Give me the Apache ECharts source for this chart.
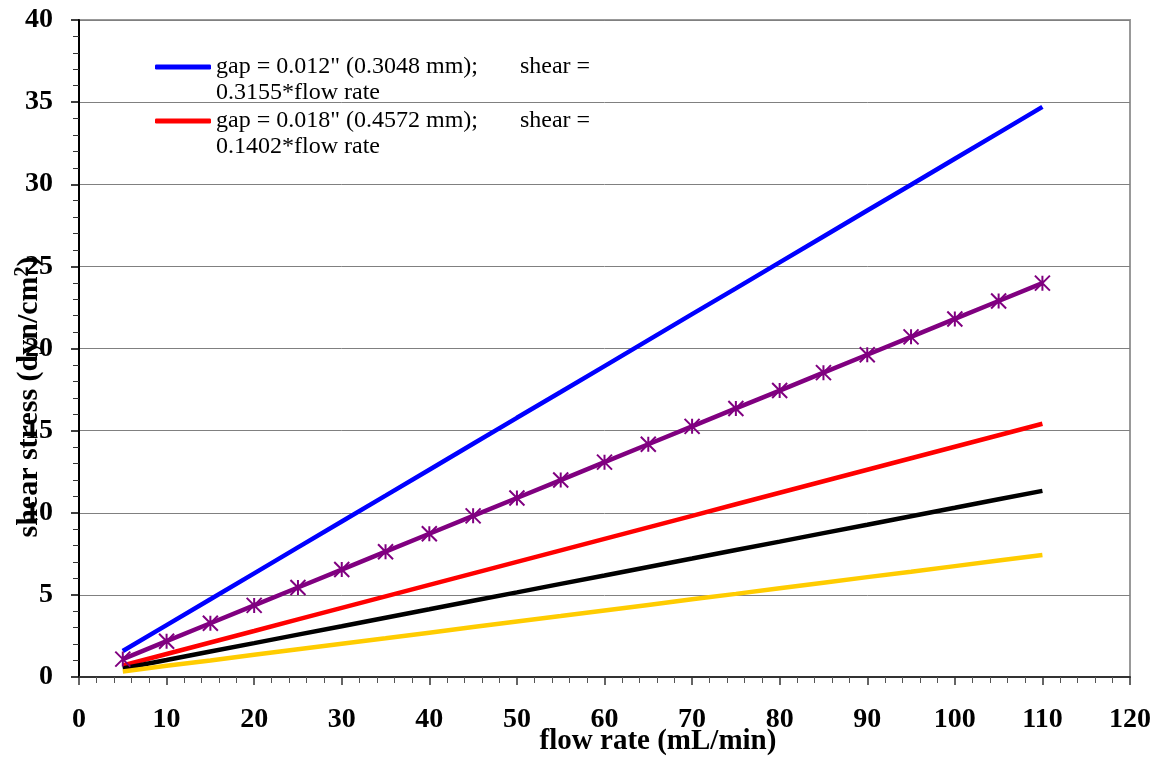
<!DOCTYPE html>
<html>
<head>
<meta charset="utf-8">
<script src="https://cdn.jsdelivr.net/npm/echarts@6/dist/echarts.min.js"></script>
<style>html,body{margin:0;padding:0;background:#fff;}#c{width:1157px;height:759px;}</style>
</head>
<body>
<div id="c"></div>
<script>
const flowRate = [5,10,15,20,25,30,35,40,45,50,55,60,65,70,75,80,85,90,95,100,105,110];
const gap012 = [1.58,3.16,4.73,6.31,7.89,9.47,11.04,12.62,14.20,15.78,17.35,18.93,20.51,22.09,23.66,25.24,26.82,28.40,29.97,31.55,33.13,34.71];
const gap018 = [0.70,1.40,2.10,2.80,3.51,4.21,4.91,5.61,6.31,7.01,7.71,8.41,9.11,9.81,10.52,11.22,11.92,12.62,13.32,14.02,14.72,15.42];
const blackSeries = [0.52,1.03,1.55,2.06,2.58,3.09,3.61,4.12,4.64,5.15,5.67,6.18,6.70,7.21,7.73,8.24,8.76,9.27,9.79,10.30,10.82,11.33];
const yellowSeries = [0.34,0.68,1.01,1.35,1.69,2.03,2.36,2.70,3.04,3.38,3.71,4.05,4.39,4.73,5.06,5.40,5.74,6.08,6.41,6.75,7.09,7.43];
const purpleSeries = [1.09,2.18,3.27,4.36,5.45,6.54,7.63,8.72,9.81,10.90,11.99,13.08,14.17,15.26,16.35,17.44,18.53,19.62,20.71,21.80,22.89,23.98];
const nameBlue = 'gap = 0.012" (0.3048 mm);       shear =\n0.3155*flow rate';
const nameRed = 'gap = 0.018" (0.4572 mm);       shear =\n0.1402*flow rate';
const xTitle = 'flow rate (mL/min)';
const yTitle = 'shear stress (dyn/cm{sup|2})';

function pairs(ys){ return flowRate.map((x,i)=>[x, ys[i]]); }

const font = "'Liberation Serif', 'Times New Roman', serif";
const chart = echarts.init(document.getElementById('c'), null, {renderer:'canvas'});
const legendText = {fontFamily:font, fontSize:24, color:'#000', lineHeight:26};
const legendCommon = {left:155, padding:0, itemWidth:56, itemHeight:5, icon:'roundRect', textStyle:legendText, selectedMode:false,
  formatter: n => '\n' + n};
chart.setOption({
  animation:false,
  backgroundColor:'#fff',
  grid:{left:79, right:27, top:20, bottom:82, show:true, borderColor:'#999', borderWidth:2},
  legend:[
    Object.assign({data:[nameBlue], top:28}, legendCommon),
    Object.assign({data:[nameRed], top:82}, legendCommon)
  ],
  xAxis:{
    type:'value', min:0, max:120, interval:10,
    axisLine:{show:true, onZero:false, lineStyle:{color:'#333', width:2}},
    axisTick:{show:true, length:8, lineStyle:{color:'#333', width:1.5}},
    minorTick:{show:true, splitNumber:5, length:6, lineStyle:{color:'#555', width:1}},
    splitLine:{show:false},
    axisLabel:{margin:29, fontFamily:font, fontWeight:'bold', fontSize:28, color:'#000'}
  },
  yAxis:{
    type:'value', min:0, max:40, interval:5,
    axisLine:{show:true, onZero:false, lineStyle:{color:'#000', width:2}},
    axisTick:{show:true, length:8, lineStyle:{color:'#000', width:1.5}},
    minorTick:{show:true, splitNumber:5, length:6, lineStyle:{color:'#333', width:1}},
    splitLine:{show:true, lineStyle:{color:'#808080', width:1}},
    axisLabel:{margin:26, fontFamily:font, fontWeight:'bold', fontSize:28, color:'#000'}
  },
  graphic:[
    {type:'text', x:658, y:742, style:{text:xTitle, font:"bold 29px "+font, fill:'#000', align:'center', verticalAlign:'middle'}},
    {type:'text', x:29, y:397, rotation:Math.PI/2, style:{text:yTitle, font:"bold 30px "+font, fill:'#000', align:'center', verticalAlign:'middle',
      rich:{sup:{fontSize:20, fontWeight:'bold', fontFamily:font, verticalAlign:'top', padding:[0,0,12,0]}}}}
  ],
  series:[
    {name:nameBlue, type:'line', data:pairs(gap012), showSymbol:false, symbol:'none', lineStyle:{color:'#0000FF', width:4.5}, itemStyle:{color:'#0000FF'}, z:2},
    {name:nameRed, type:'line', data:pairs(gap018), showSymbol:false, symbol:'none', lineStyle:{color:'#FF0000', width:4.5}, itemStyle:{color:'#FF0000'}, z:2},
    {name:'black', type:'line', data:pairs(blackSeries), showSymbol:false, symbol:'none', lineStyle:{color:'#000000', width:4.5}, itemStyle:{color:'#000'}, z:2},
    {name:'yellow', type:'line', data:pairs(yellowSeries), showSymbol:false, symbol:'none', lineStyle:{color:'#FFCC00', width:4.5}, itemStyle:{color:'#FFCC00'}, z:2},
    {name:'purple', type:'line', data:pairs(purpleSeries), symbol:'path://M0,0L10,10M10,0L0,10M5,0L5,10', symbolSize:15,
      showAllSymbol:true, lineStyle:{color:'#800080', width:4.5}, itemStyle:{color:'transparent', borderColor:'#800080', borderWidth:2}, z:3}
  ]
});
</script>
</body>
</html>
